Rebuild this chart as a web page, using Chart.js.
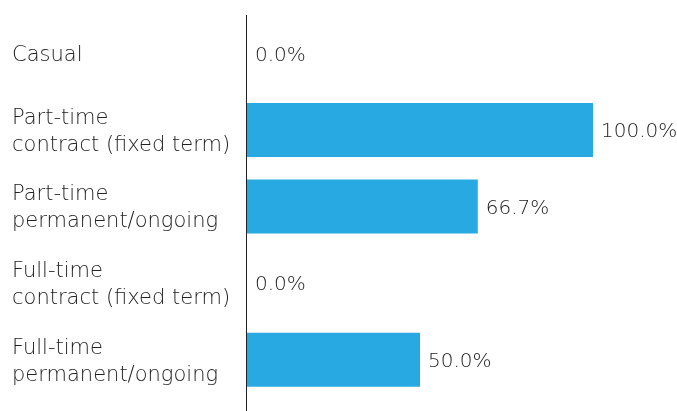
<!DOCTYPE html>
<html>
<head>
<meta charset="utf-8">
<script src="https://cdn.jsdelivr.net/npm/chart.js@4"></script>
<style>
  html, body { margin: 0; padding: 0; background: #fff; }
  #wrap { width: 677px; height: 411px; }
</style>
</head>
<body>
<div id="wrap"><canvas id="chart"></canvas></div>
<script>
const categories = [
  ["Casual"],
  ["Part-time", "contract (fixed term)"],
  ["Part-time", "permanent/ongoing"],
  ["Full-time", "contract (fixed term)"],
  ["Full-time", "permanent/ongoing"]
];
const shares = [0.0, 100.0, 66.7, 0.0, 50.0];

const FONT = "'DejaVu Sans', sans-serif";
const TEXT = "#222222";

// value labels at the end of each bar, plus the left axis line
const barLabels = {
  id: "barLabels",
  afterDatasetsDraw(chart) {
    const ctx = chart.ctx;
    const meta = chart.getDatasetMeta(0);
    ctx.save();
    ctx.font = "300 20px " + FONT;
    ctx.fillStyle = TEXT;
    ctx.textAlign = "left";
    ctx.textBaseline = "middle";
    meta.data.forEach((bar, i) => {
      ctx.fillText(shares[i].toFixed(1) + "%", bar.x + 8, bar.y + 2);
    });
    const x = chart.scales.x.getPixelForValue(0);
    ctx.strokeStyle = "#222";
    ctx.lineWidth = 1;
    ctx.beginPath();
    ctx.moveTo(Math.round(x) - 0.5, chart.chartArea.top);
    ctx.lineTo(Math.round(x) - 0.5, chart.height);
    ctx.stroke();
    ctx.restore();
  }
};

new Chart(document.getElementById("chart"), {
  type: "bar",
  data: {
    labels: categories,
    datasets: [{
      data: shares,
      backgroundColor: "#29A9E1",
      borderWidth: 0,
      barPercentage: 0.705,
      categoryPercentage: 1
    }]
  },
  options: {
    indexAxis: "y",
    responsive: true,
    maintainAspectRatio: false,
    animation: false,
    layout: { padding: { left: 12, right: 84, top: 15, bottom: 13 } },
    plugins: { legend: { display: false }, tooltip: { enabled: false } },
    scales: {
      x: { display: false, min: 0, max: 100 },
      y: {
        grid: { display: false },
        border: { display: false },
        afterFit(scale) {
          scale.width = 235;
          scale.paddingTop = 0;
          scale.paddingBottom = 0;
        },
        ticks: {
          crossAlign: "far",
          labelOffset: 2,
          color: TEXT,
          font: { family: FONT, size: 21, weight: 300, lineHeight: 1.29 }
        }
      }
    }
  },
  plugins: [barLabels]
});
</script>
</body>
</html>
